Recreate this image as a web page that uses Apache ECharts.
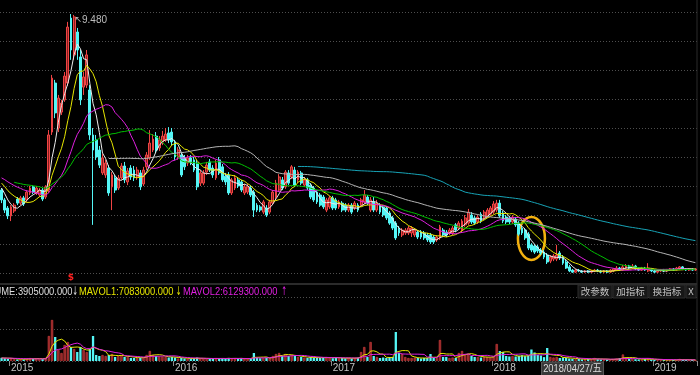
<!DOCTYPE html>
<html><head><meta charset="utf-8">
<script src="https://cdn.jsdelivr.net/npm/echarts@6/dist/echarts.min.js"></script>
<style>html,body{margin:0;padding:0;background:#000;}#c{width:700px;height:375px;}</style>
</head><body><div id="c"></div>
<script>
// ---------- weekly OHLC (price units) ----------
const open = [3.41,3.07,2.79,2.52,2.69,3.10,2.96,3.14,3.07,3.31,
3.52,3.31,3.24,3.41,3.17,3.41,5.41,7.10,5.55,6.10,
6.52,7.10,9.34,8.07,8.86,8.00,6.96,7.03,6.86,5.31,
5.14,4.79,4.00,3.93,4.17,3.52,3.83,3.48,3.83,4.24,
3.69,4.17,4.10,3.86,4.00,3.62,4.21,4.52,4.79,5.27,
4.86,5.07,5.14,5.38,5.41,5.07,4.55,4.62,4.52,4.34,
4.52,4.45,4.34,3.65,3.65,4.03,4.38,4.17,3.83,4.45,
4.21,3.89,3.93,3.31,3.48,3.76,3.69,3.31,3.34,3.48,
3.34,2.89,2.83,2.65,2.79,2.65,2.96,3.17,3.41,3.76,
3.52,4.00,3.86,4.10,3.76,4.00,3.58,3.76,3.58,3.48,
3.34,3.24,3.17,2.72,2.83,3.14,3.07,2.83,2.96,2.89,
2.72,2.89,2.79,2.89,2.89,3.00,3.17,2.72,3.00,2.72,
2.89,2.83,2.79,2.62,2.45,2.27,2.10,1.86,1.93,1.93,
1.93,1.86,1.96,1.96,1.93,1.86,1.86,1.79,1.69,1.76,
2.03,1.96,1.93,1.93,2.21,2.10,2.03,2.21,2.27,2.55,
2.45,2.31,2.58,2.45,2.52,2.58,2.65,2.72,2.96,2.62,
2.48,2.45,2.31,2.41,2.27,2.10,2.03,1.89,1.52,1.48,
1.45,1.34,1.27,1.17,0.96,1.03,1.03,1.24,1.10,0.93,
0.76,0.65,0.58,0.65,0.62,0.58,0.62,0.58,0.62,0.65,
0.62,0.58,0.62,0.58,0.62,0.65,0.72,0.65,0.72,0.79,
0.72,0.79,0.69,0.65,0.72,0.62,0.69,0.62,0.58,0.62,
0.65,0.62,0.65,0.69,0.65,0.69,0.76,0.69,0.65,0.69,0.65];
const close = [3.07,2.72,2.52,2.83,2.89,2.96,3.14,2.93,3.34,3.48,
3.34,3.48,3.41,3.10,3.52,5.31,7.27,6.07,6.58,6.41,
7.34,9.03,8.24,9.38,8.24,6.52,7.31,8.07,5.31,4.79,
4.55,4.27,4.52,4.34,3.31,3.93,3.41,3.83,4.24,3.76,
4.07,3.86,3.83,4.10,3.52,4.10,4.62,5.03,5.17,4.79,
5.14,5.27,5.34,5.14,5.07,4.55,4.79,3.93,4.21,4.52,
4.38,4.10,3.52,4.00,4.00,4.27,4.10,3.93,4.34,4.00,
3.76,3.69,3.31,3.76,3.83,3.55,3.41,3.52,3.52,3.24,
2.72,2.72,2.72,3.00,2.55,3.00,3.34,3.65,3.86,3.48,
4.03,3.65,4.21,3.58,4.03,3.65,3.76,3.48,3.17,3.07,
3.00,2.89,2.83,3.07,3.14,2.79,2.79,3.00,2.72,2.72,
2.89,2.65,2.96,2.72,3.07,3.24,2.96,3.07,2.72,2.96,
2.65,2.55,2.45,2.27,2.10,1.76,1.93,2.03,2.03,2.10,
2.10,2.03,1.79,1.79,1.76,1.69,1.62,1.62,1.79,2.14,
1.86,1.86,2.03,2.10,2.03,2.27,2.34,2.45,2.65,2.31,
2.27,2.48,2.34,2.65,2.72,2.79,2.93,2.96,2.52,2.34,
2.31,2.31,2.48,2.21,1.89,1.93,1.76,1.41,1.34,1.27,
1.31,1.24,1.10,0.93,1.10,1.14,1.17,1.07,0.89,0.72,
0.62,0.58,0.65,0.62,0.58,0.62,0.58,0.62,0.65,0.62,
0.58,0.62,0.58,0.65,0.69,0.72,0.65,0.76,0.79,0.72,
0.79,0.69,0.65,0.72,0.65,0.72,0.62,0.58,0.62,0.65,
0.62,0.65,0.69,0.65,0.72,0.76,0.69,0.65,0.69,0.65,0.69];
const low = [2.96,2.62,2.41,2.34,2.62,2.89,2.89,2.86,3.00,3.24,
3.27,3.24,3.17,3.03,3.10,3.31,5.31,5.89,5.41,6.00,
6.45,7.00,7.90,7.90,7.90,6.34,6.69,6.93,5.14,2.21,
4.45,4.17,3.93,3.83,3.21,2.72,3.31,3.41,3.76,3.65,
3.58,3.76,3.72,3.76,3.41,3.55,4.10,4.45,4.72,4.69,
4.76,4.96,5.07,5.03,4.96,4.45,4.45,3.86,4.10,4.24,
4.27,4.03,3.41,3.55,3.58,3.93,4.03,3.83,3.76,3.93,
3.69,3.58,3.24,3.24,3.41,3.48,3.34,3.24,3.27,3.17,
2.48,2.65,2.65,2.58,2.48,2.58,2.89,3.10,3.34,3.41,
3.45,3.58,3.79,3.52,3.65,3.58,3.52,3.41,3.10,3.00,
2.93,2.83,2.76,2.65,2.76,2.72,2.72,2.76,2.65,2.65,
2.65,2.58,2.72,2.65,2.83,2.93,2.89,2.65,2.65,2.65,
2.58,2.48,2.38,2.21,2.03,1.69,1.83,1.79,1.86,1.86,
1.79,1.79,1.72,1.72,1.69,1.62,1.55,1.55,1.62,1.69,
1.79,1.79,1.86,1.86,1.96,2.03,1.96,2.14,2.21,2.24,
2.21,2.24,2.27,2.38,2.45,2.52,2.58,2.65,2.45,2.27,
2.24,2.24,2.24,2.14,1.83,1.86,1.69,1.34,1.27,1.21,
1.24,1.17,1.03,0.86,0.89,0.96,0.96,1.00,0.83,0.69,
0.58,0.55,0.55,0.58,0.55,0.55,0.55,0.55,0.58,0.58,
0.55,0.55,0.55,0.55,0.58,0.62,0.62,0.62,0.69,0.69,
0.69,0.65,0.62,0.62,0.62,0.58,0.58,0.55,0.55,0.58,
0.58,0.58,0.62,0.62,0.62,0.65,0.65,0.62,0.62,0.62,0.62];
const high = [3.48,3.14,2.86,2.89,2.96,3.17,3.21,3.21,3.41,3.55,
3.58,3.55,3.48,3.48,3.58,5.48,7.38,7.21,6.69,6.52,
7.48,9.21,9.48,9.45,9.00,8.24,7.48,8.24,7.03,5.55,
5.31,4.93,4.65,4.45,4.27,4.03,3.93,3.93,4.34,4.38,
4.17,4.27,4.24,4.21,4.10,4.21,4.72,5.48,5.34,5.41,
5.27,5.45,5.55,5.58,5.55,5.14,4.89,4.72,4.62,4.62,
4.62,4.55,4.45,4.10,4.10,4.38,4.48,4.27,4.45,4.55,
4.31,4.00,4.03,3.83,3.93,3.86,3.76,3.62,3.62,3.58,
3.41,2.96,2.89,3.07,2.89,3.07,3.41,3.76,3.96,3.86,
4.10,4.10,4.27,4.21,4.10,4.07,3.86,3.83,3.65,3.55,
3.41,3.31,3.24,3.14,3.21,3.21,3.14,3.07,3.03,2.96,
2.96,2.96,3.03,2.96,3.14,3.41,3.24,3.17,3.17,3.07,
2.96,2.89,2.86,2.69,2.52,2.34,2.17,2.10,2.10,2.17,
2.17,2.10,2.03,2.03,2.00,1.93,1.93,1.86,1.86,2.21,
2.10,2.03,2.10,2.17,2.27,2.34,2.41,2.55,2.76,2.65,
2.52,2.55,2.65,2.72,2.79,2.86,3.03,3.07,3.07,2.69,
2.55,2.52,2.55,2.48,2.34,2.17,2.10,1.96,1.58,1.55,
1.52,1.41,1.34,1.24,1.17,1.21,1.52,1.31,1.17,1.00,
0.83,0.69,0.69,0.69,0.65,0.65,0.65,0.65,0.69,0.69,
0.65,0.65,0.65,0.69,0.72,0.79,0.76,0.83,0.86,0.83,
0.86,0.83,0.72,0.76,0.76,0.89,0.72,0.65,0.65,0.69,
0.69,0.69,0.72,0.72,0.76,0.79,0.79,0.72,0.72,0.72,0.72];
// weekly volume, in units of 10,000 shares (万股)
const volume = [320,280,210,250,180,150,200,160,240,290,220,260,200,190,310,
2500,4100,2400,1100,800,1600,1900,1400,1200,900,1400,1100,900,1200,2500,
600,500,600,500,600,700,400,500,600,400,400,300,300,300,350,400,
600,1000,600,500,450,450,400,350,400,350,250,300,
260,220,240,280,340,250,230,210,240,260,290,220,250,230,310,270,240,220,260,230,250,
250,800,320,280,300,330,290,
500,700,800,500,700,500,600,500,400,400,
350,300,400,350,300,300,350,400,350,
280,320,260,300,270,310,250,290,330,
900,1400,400,1900,500,
400,300,350,300,400,400,
2900,800,700,400,300,300,350,300,250,300,300,700,300,300,2100,
400,400,300,350,300,800,1000,700,700,500,400,400,350,400,400,350,500,1700,1000,900,500,450,500,
450,520,580,490,547.8,1150,850,600,551,390.5,
1300,400,350,400,300,350,300,250,
220,180,200,160,190,210,170,300,180,150,160,140,170,190,
240,280,650,300,220,250,180,160,150,190,260,140,
120,100,110,90,100,120,110,130,200,120,100,90,110,100];
// closes / volumes of the weeks before the visible window (only used to warm up the averages)
const historyClose = [3.80,3.70,3.75,3.80,3.85,3.87,3.95,4.05,4.10,4.15,4.05,4.00,3.95,4.00,3.90,3.95,3.95,3.90,3.85,3.75,3.65,3.70,3.60,3.60,3.43];
const historyVolume = [350,300,280,320,260,300,270,290,310];
const maPeriods = [5,10,20,30,60,120];
const maColors = ['#ececec','#e6e600','#e020e0','#00c000','#b4b4b4','#17a3b6'];
const volPeriods = [5,10];
const skipWeeks = ['2016-02-12','2016-10-07','2017-10-06','2018-10-05','2019-02-08'];
const lastTradingDay = {'2015-01-02':'2014-12-31','2016-01-01':'2015-12-31','2019-04-05':'2019-04-04'};
const crossDate = '2018-04-27';
const peakLabelDigits = 3;

// ---------- categories ----------
const dates = [];
{ let t = Date.UTC(2014,11,19);
  while (dates.length < open.length) {
    const s = new Date(t).toISOString().slice(0,10);
    if (!skipWeeks.includes(s)) dates.push(lastTradingDay[s] || s);
    t += 7*86400000;
  } }

function movingAvg(series, hist, n){
  const all = hist.concat(series), off = hist.length;
  return series.map((_,i)=>{
    const j = i+off; if (j < n-1) return '-';
    let s = 0; for (let k=j-n+1;k<=j;k++) s += all[k];
    return +(s/n).toFixed(4);
  });
}
const yearStart = (idx)=> idx>0 && dates[idx].slice(0,4)!==dates[idx-1].slice(0,4);
const SANS = '"Liberation Sans",Arial,sans-serif';
const UP_FILL='#861f1f', UP_LINE='#f04444', DOWN='#54f6f6';

const chart = echarts.init(document.getElementById('c'));
const kData = open.map((o,i)=>[o, close[i], low[i], high[i]]);
const volData = volume.map((v,i)=>({value:v, itemStyle: close[i]>=open[i] ? {color:'#8e2626', borderColor:'#d84040', borderWidth:0.6} : {color:DOWN}}));
const mavol = volPeriods.map(n=>movingAvg(volume, historyVolume, n));

const series = [{
  type:'candlestick', xAxisIndex:0, yAxisIndex:0, data:kData, barWidth:2.3, z:2,
  itemStyle:{color:UP_FILL, color0:DOWN, borderColor:UP_LINE, borderColor0:DOWN, borderWidth:1},
  markPoint:{symbol:'circle', symbolSize:1, itemStyle:{color:'rgba(0,0,0,0)'}, silent:true,
    data:[{type:'max', valueDim:'highest'}],
    label:{show:true, position:'right', distance:1, offset:[2,6],
      formatter:p=>'{a|↖}{b|'+Number(p.value).toFixed(peakLabelDigits)+'}',
      rich:{a:{color:'#bdbdbd',fontSize:9,fontFamily:'DejaVu Sans'}, b:{color:'#bdbdbd',fontSize:10,fontFamily:SANS}}}}
}];
maPeriods.forEach((n,k)=>series.push({type:'line', xAxisIndex:0, yAxisIndex:0, data:movingAvg(close, historyClose, n),
  showSymbol:false, symbol:'none', z:3, lineStyle:{width:1, color:maColors[k]}, silent:true}));
series.push({type:'bar', xAxisIndex:1, yAxisIndex:2, data:volData, barWidth:2.3, z:2});
series.push({type:'line', xAxisIndex:1, yAxisIndex:2, data:mavol[0], symbol:'none', z:3, lineStyle:{width:1,color:'#e6e600'}});
series.push({type:'line', xAxisIndex:1, yAxisIndex:2, data:mavol[1], symbol:'none', z:3, lineStyle:{width:1,color:'#e020e0'}});

const dotted = {show:true, lineStyle:{color:'#4e4e4e', width:1, type:[1,2]}};
chart.setOption({
  backgroundColor:'#000', animation:false,
  grid:[{left:-2.5,right:3,top:12,height:261},{left:-2.5,right:3,top:297,height:64}],
  xAxis:[
    {type:'category', gridIndex:0, data:dates, axisLine:{show:false}, axisTick:{show:false}, axisLabel:{show:false}, splitLine:{show:false}},
    {type:'category', gridIndex:1, data:dates, axisLine:{show:false},
     axisTick:{show:true, interval:yearStart, length:5, lineStyle:{color:'#8c8c8c'}},
     axisLabel:{show:true, interval:yearStart, formatter:v=>v.slice(0,4), align:'left', margin:2,
       color:'#c6c6c6', fontSize:10, fontFamily:SANS}, splitLine:{show:false}}
  ],
  yAxis:[
    {type:'value', gridIndex:0, min:0.55, max:9.55, show:false, splitLine:{show:false}},
    {type:'value', gridIndex:0, min:0, max:9, interval:1, axisLine:{show:false}, axisTick:{show:false}, axisLabel:{show:false}, splitLine:dotted},
    {type:'value', gridIndex:1, min:0, max:6400, interval:3200, axisLine:{show:false}, axisTick:{show:false}, axisLabel:{show:false}, splitLine:dotted}
  ],
  series
});

// ---------- overlays ----------
const ci = dates.indexOf(crossDate);
const fmt = v=>(v*10000).toFixed(3);
const wk = '日一二三四五六';
const cd = new Date(crossDate+'T00:00:00Z');
const crossLabel = crossDate.replace(/-/g,'/')+'/'+wk[cd.getUTCDay()];
const cx = chart.convertToPixel({xAxisIndex:1}, ci);
const ell = chart.convertToPixel({xAxisIndex:0,yAxisIndex:0}, [168, 1.74]);
const peakIdx = high.indexOf(Math.max(...high));
const mk = chart.convertToPixel({xAxisIndex:0}, peakIdx);
const g = [];
g.push({type:'rect', shape:{x:0,y:283,width:697,height:2}, style:{fill:'#2b2b2b'}, silent:true});
g.push({type:'rect', shape:{x:696.5,y:0,width:1,height:361}, style:{fill:'#2b2b2b'}, silent:true});
const rowY = 291.5, SX = 0.85;
const tx = (x,text,fill,align)=>({type:'text', x, y:rowY, scaleX:SX, silent:true, style:{text, fill, font:'11px '+SANS, align:align||'left', verticalAlign:'middle'}});
const arrow = (x,text,fill)=>({type:'text', x, y:rowY, scaleX:0.55, silent:true, style:{text, fill, font:'12px "DejaVu Sans"', align:'center', verticalAlign:'middle'}});
g.push(tx(72.5,'VOLUME:'+fmt(volume[ci]),'#dedede','right'));
g.push(arrow(75,'↓','#dedede'));
g.push(tx(79,'MAVOL1:'+fmt(mavol[0][ci]),'#e6e600'));
g.push(arrow(178.5,'↓','#e6e600'));
g.push(tx(183,'MAVOL2:'+fmt(mavol[1][ci]),'#e020e0'));
g.push(arrow(284,'↑','#e020e0'));
[['改参数',578,34],['加指标',613,35],['换指标',649,36],['X',686,10]].forEach(([t,x,w])=>{
  g.push({type:'rect', shape:{x,y:285,width:w,height:13}, style:{fill:'#171717', stroke:'#2c2c2c', lineWidth:1}, silent:true});
  g.push({type:'text', x:x+w/2, y:rowY, silent:true, style:{text:t, fill:'#c2c2c2', font:'9.5px "Noto Sans CJK SC",sans-serif', align:'center', verticalAlign:'middle'}});
});
g.push({type:'rect', shape:{x:cx-2.5, y:362, width:62, height:14}, style:{fill:'#383838', stroke:'#5a5a5a', lineWidth:1}, silent:true});
g.push({type:'text', x:cx-2.5+31, y:369, scaleX:SX, silent:true, style:{text:crossLabel, fill:'#dcdcdc', font:'11px '+SANS+',"Noto Sans CJK SC"', align:'center', verticalAlign:'middle'}});
g.push({type:'ellipse', shape:{cx:ell[0], cy:ell[1], rx:13.5, ry:21.5}, style:{fill:'none', stroke:'#f4b10f', lineWidth:2.5}, silent:true});
g.push({type:'text', x:mk, y:277.5, silent:true, style:{text:'$', fill:'#ff2222', font:'bold 9px "DejaVu Sans"', align:'center', verticalAlign:'middle'}});
chart.setOption({graphic:g});
</script></body></html>
